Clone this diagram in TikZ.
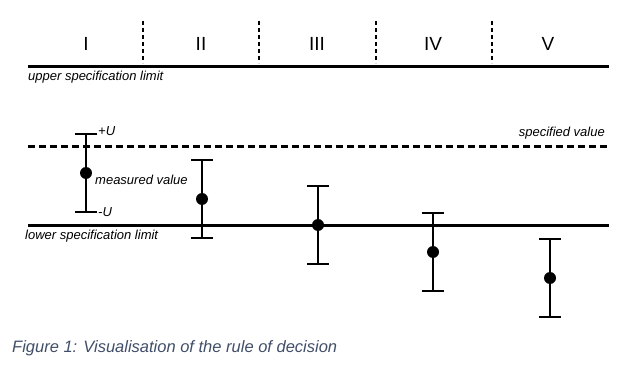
\documentclass[tikz,border=0pt]{standalone}
\usepackage{fontspec}
\setmainfont{Liberation Sans}
\definecolor{captionblue}{RGB}{64,78,104}

\tikzset{
  limit/.style={line width=3pt},
  zone/.style={line width=2pt,dash pattern=on 4pt off 3pt},
  bar/.style={line width=2pt},
  lbl/.style={inner sep=0pt,font=\fontsize{13}{15}\selectfont\itshape},
  zonelbl/.style={inner sep=0pt,font=\fontsize{19}{21}\selectfont}
}

\begin{document}
\begin{tikzpicture}[x=1pt,y=-1pt]
  \useasboundingbox (0,0) rectangle (630,374);

  % the two limits and the specified value
  \coordinate (usl-a) at (28,67);   \coordinate (usl-b) at (609,67);
  \coordinate (sv-a)  at (28,147);  \coordinate (sv-b)  at (609,147);
  \coordinate (lsl-a) at (28,226);  \coordinate (lsl-b) at (609,226);
  \draw[limit] (usl-a) -- (usl-b);
  \draw[limit,dash pattern=on 7pt off 4pt] (sv-a) -- (sv-b);
  \draw[limit] (lsl-a) -- (lsl-b);

  \node[lbl,anchor=west] (usl) at (28,77) {upper specification limit};
  \node[lbl,anchor=west] (lsl) at (25,236) {lower specification limit};
  \node[lbl,anchor=east] (sv)  at (605,133) {specified value};

  % zones
  \node[zonelbl] (z1) at (86,44)  {I};
  \node[zonelbl] (z2) at (201,44) {II};
  \node[zonelbl] (z3) at (317,44) {III};
  \node[zonelbl] (z4) at (433,44) {IV};
  \node[zonelbl] (z5) at (548,44) {V};
  \foreach \x [count=\i] in {143,259,376,492} {
    \coordinate (sep\i-a) at (\x,21);
    \coordinate (sep\i-b) at (\x,63);
    \draw[zone] (sep\i-a) -- (sep\i-b);
  }

  % measured values with +U / -U
  \foreach \x/\y [count=\i] in {86/173,202/199,318/225,433/252,550/278} {
    \coordinate (top\i) at (\x,\y-39);
    \coordinate (bot\i) at (\x,\y+39);
    \coordinate (val\i) at (\x,\y);
    \draw[bar] (top\i) -- (bot\i);
    \draw[bar] ([xshift=-11pt]top\i) -- ([xshift=11pt]top\i);
    \draw[bar] ([xshift=-11pt]bot\i) -- ([xshift=11pt]bot\i);
    \fill (val\i) circle (6pt);
  }

  \node[lbl,anchor=west] (plusU)  at (98,131) {+U};
  \node[lbl,anchor=west] (minusU) at (98,212) {-U};
  \node[lbl,anchor=west] (mv)     at (95,180) {measured value};

  % caption
  \node[inner sep=0pt,anchor=west,text=captionblue,
        font=\fontsize{16.5}{19}\selectfont\itshape] (cap) at (12,348)
        {Figure 1: Visualisation of the rule of decision};
\end{tikzpicture}
\end{document}
